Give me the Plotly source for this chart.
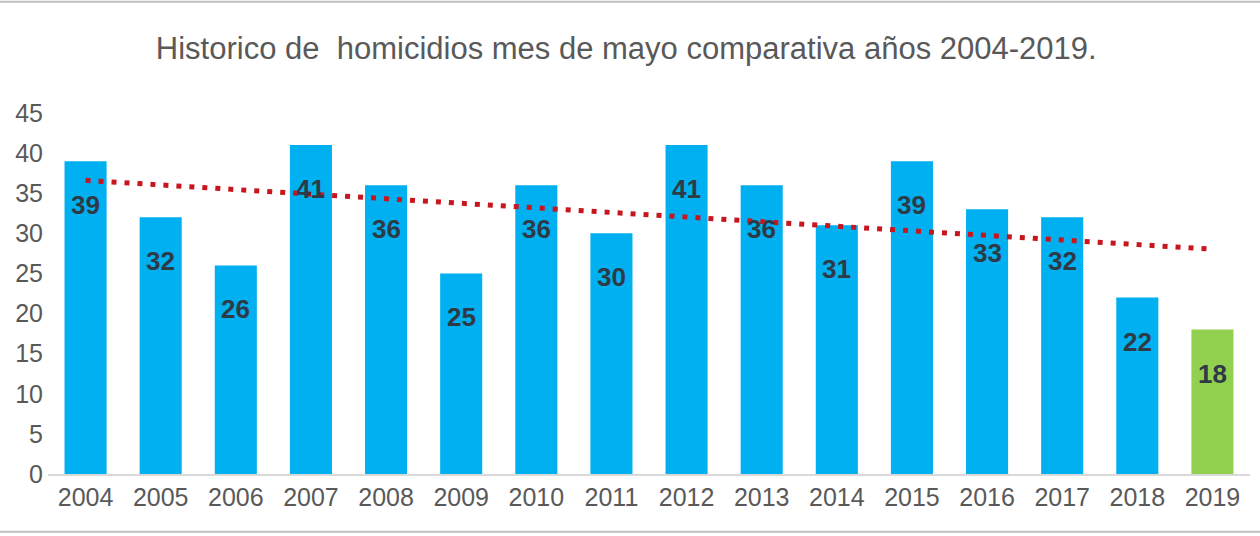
import numpy as np
import plotly.graph_objects as go

years = ["2004", "2005", "2006", "2007", "2008", "2009", "2010", "2011",
         "2012", "2013", "2014", "2015", "2016", "2017", "2018", "2019"]
homicidios = [39, 32, 26, 41, 36, 25, 36, 30, 41, 36, 31, 39, 33, 32, 22, 18]
y_ticks = [0, 5, 10, 15, 20, 25, 30, 35, 40, 45]
title_text = "Historico de  homicidios mes de mayo comparativa años 2004-2019."

BLUE = "#00B0F0"
GREEN = "#92D050"
bar_colors = [BLUE] * (len(years) - 1) + [GREEN]

# linear trend line (Excel-style)
idx = np.arange(len(years))
slope, intercept = np.polyfit(idx, homicidios, 1)
trend = slope * idx + intercept

fig = go.Figure()
fig.add_trace(go.Bar(
    x=years, y=homicidios, marker=dict(color=bar_colors, line=dict(width=0)),
    showlegend=False, hoverinfo="x+y",
))
fig.add_trace(go.Scatter(
    x=years, y=trend, mode="lines",
    line=dict(color="#C8161E", width=5, dash="5px,8px"),
    showlegend=False, hoverinfo="skip",
))

annotations = []
for i, v in enumerate(homicidios):
    annotations.append(dict(
        x=i, y=v, xref="x", yref="y", text=f"<b>{v}</b>", showarrow=False,
        yshift=-44, yanchor="middle", xanchor="center",
        font=dict(family="Liberation Sans, Arial, sans-serif", size=26, color="#2E3A46"),
    ))

fig.update_layout(
    width=1260, height=536,
    margin=dict(l=48, r=10, t=113, b=62),
    paper_bgcolor="white", plot_bgcolor="white",
    bargap=0.44,
    title=dict(text=title_text, x=0.497, xanchor="center", y=0.91, yanchor="middle",
               font=dict(family="Liberation Sans, Arial, sans-serif", size=31, color="#595959")),
    font=dict(family="Liberation Sans, Arial, sans-serif", size=25, color="#595959"),
    xaxis=dict(type="category", showline=True, linecolor="#D9D9D9", linewidth=2,
               showgrid=False, ticks="", tickfont=dict(size=25, color="#595959"),
               range=[-0.5, len(years) - 0.5]),
    yaxis=dict(range=[0, 45], tickvals=y_ticks, showgrid=False, zeroline=False,
               showline=False, ticks="", tickfont=dict(size=25, color="#595959"),
               ticklabelstandoff=4),
    annotations=annotations,
    shapes=[
        dict(type="line", xref="paper", yref="paper", x0=-0.05, x1=1.05, y0=1.308, y1=1.308,
             line=dict(color="#BFBFBF", width=2)),
        dict(type="line", xref="paper", yref="paper", x0=-0.05, x1=1.05, y0=-0.16, y1=-0.16,
             line=dict(color="#BFBFBF", width=2)),
    ],
)

fig.write_html("out.html", post_script="document.body.style.margin='0';",
               config={"displayModeBar": False})
